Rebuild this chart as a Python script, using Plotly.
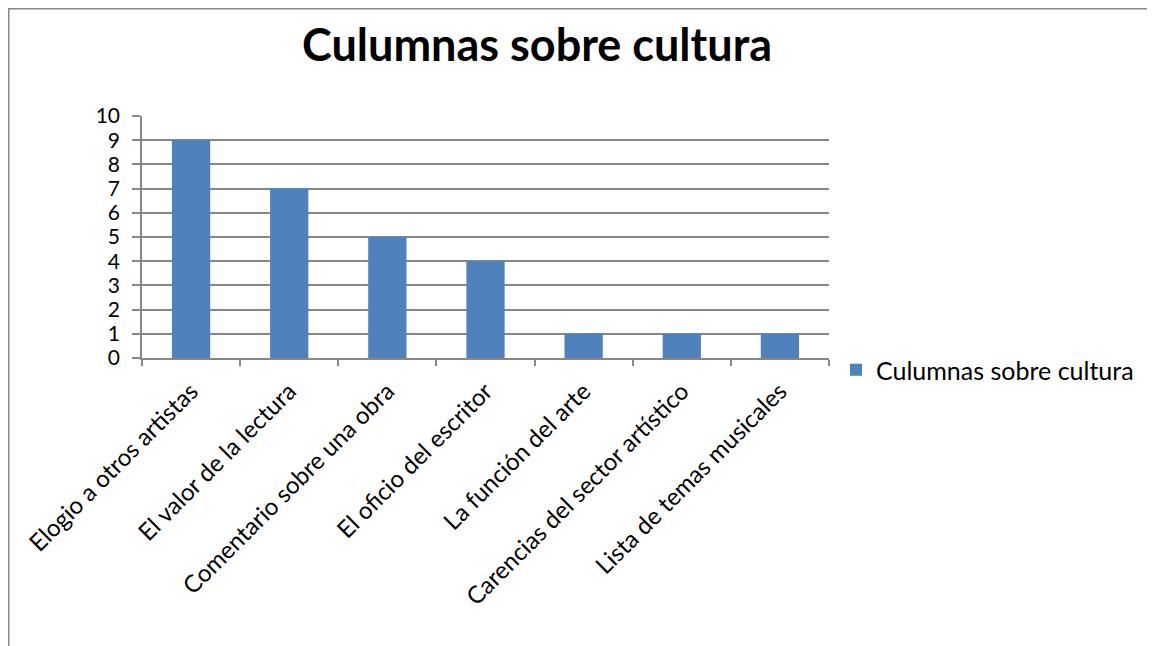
import plotly.graph_objects as go

categories = ["Elogio a otros artistas", "El valor de la lectura", "Comentario sobre una obra",
              "El oficio del escritor", "La función del arte", "Carencias del sector artístico",
              "Lista de temas musicales"]
values = [9, 7, 5, 4, 1, 1, 1]
series_name = "Culumnas sobre cultura"
title_text = "Culumnas sobre cultura"

# page body has an 8px margin, so the figure is drawn 8px in from the window corner
OFF = 8
W, H = 1155 - OFF, 646 - OFF
L, R, T, B = 142 - OFF, 829 - OFF, 116 - OFF, 358 - OFF
pw, ph = R - L, B - T

font = "Lato, Open Sans, sans-serif"
grid = "#878787"

fig = go.Figure()
fig.add_trace(go.Bar(x=categories, y=values, name=series_name, marker_color="#4F81BD",
                     marker_line_width=0, showlegend=True))

fig.update_layout(
    width=W, height=H,
    margin=dict(l=L, r=W - R, t=T, b=H - B, pad=0),
    paper_bgcolor="white", plot_bgcolor="white",
    bargap=0.61,
    title=dict(text="<b>" + title_text + "</b>", x=(537 - OFF) / W, xref="container", xanchor="center",
               y=1 - (45 - OFF) / H, yref="container", yanchor="middle",
               font=dict(family=font, size=45, color="black")),
    showlegend=True,
    legend=dict(x=(836 - OFF - L) / pw, y=(B - (370 - OFF)) / ph, xanchor="left", yanchor="middle",
                font=dict(family=font, size=25, color="black"), bgcolor="rgba(0,0,0,0)",
                itemwidth=30),
    font=dict(family=font, size=24, color="black"),
)
fig.update_yaxes(range=[0, 10], dtick=1, showgrid=True, gridcolor=grid, gridwidth=1.5,
                 showline=True, linecolor=grid, linewidth=1.5, ticks="outside", ticklen=8,
                 tickcolor=grid, tickwidth=1.5, zeroline=False, ticklabelstandoff=8,
                 tickfont=dict(family=font, size=21, color="black"))
fig.update_xaxes(showline=True, linecolor=grid, linewidth=1.5, ticks="outside", ticklen=6,
                 tickcolor=grid, tickwidth=1.5, tickson="boundaries", tickangle=-45,
                 ticklabelstandoff=8,
                 showgrid=False, tickfont=dict(family=font, size=24, color="black"))

fig.add_shape(type="rect", xref="paper", yref="paper",
              x0=(0.75 - L) / pw, x1=3, y0=-3, y1=(B - 0.75) / ph,
              line=dict(color="#888888", width=1.5), fillcolor="rgba(0,0,0,0)", layer="below")

fig.write_html("out.html")
